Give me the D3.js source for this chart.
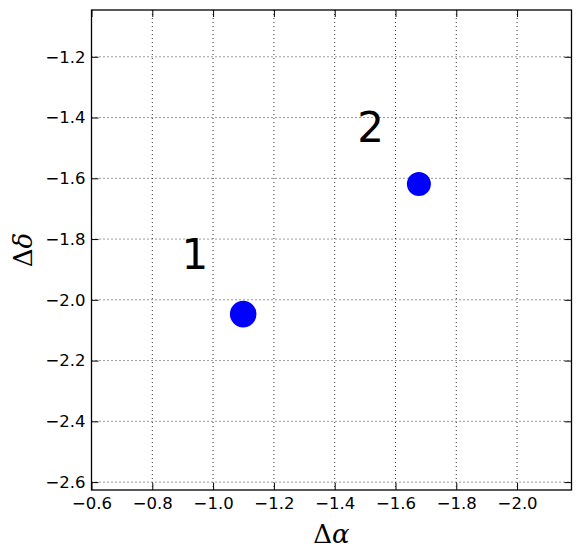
<!DOCTYPE html>
<html>
<head>
<meta charset="utf-8">
<script src="https://cdn.jsdelivr.net/npm/d3@7"></script>
<style>
  body { margin: 0; background: #fff; }
  text { font-family: "DejaVu Sans", sans-serif; }
</style>
</head>
<body>
<div id="chart"></div>
<script>
// data
var dAlpha = [-1.099, -1.677];
var dDelta = [-2.047, -1.619];
var sizes = [13.3, 12];
var labels = ["1", "2"];
var labelX = [-0.94, -1.518];
var labelY = [-1.9, -1.479];
var xTicks = [-0.6, -0.8, -1.0, -1.2, -1.4, -1.6, -1.8, -2.0];
var yTicks = [-1.2, -1.4, -1.6, -1.8, -2.0, -2.2, -2.4, -2.6];

var W = 580, H = 558;
var margin = {top: 10, right: 8.5, bottom: 68, left: 91.5};
var width = W - margin.left - margin.right,
    height = H - margin.top - margin.bottom;

var svg = d3.select("#chart").append("svg")
    .attr("width", W)
    .attr("height", H)
  .append("g")
    .attr("transform", "translate(" + margin.left + "," + margin.top + ")");

var x = d3.scaleLinear().domain([-0.6, -2.179]).range([0, width]);
var y = d3.scaleLinear().domain([-2.626, -1.046]).range([height, 0]);

var fmt = function(d) { return d3.format(".1f")(d).replace("-", "\u2212"); };

// grid
svg.append("g").selectAll("line").data(xTicks).enter().append("line")
    .attr("x1", function(d) { return x(d); }).attr("x2", function(d) { return x(d); })
    .attr("y1", 0).attr("y2", height)
    .style("stroke", "#000").style("stroke-width", 0.8).style("stroke-dasharray", "1,3");
svg.append("g").selectAll("line").data(yTicks).enter().append("line")
    .attr("y1", function(d) { return y(d); }).attr("y2", function(d) { return y(d); })
    .attr("x1", 0).attr("x2", width)
    .style("stroke", "#000").style("stroke-width", 0.8).style("stroke-dasharray", "1,3");

// axes (ticks inward, on all sides)
function styleAxis(g) {
  g.select(".domain").remove();
  g.selectAll(".tick line").style("stroke", "#000").style("stroke-width", 1);
  g.selectAll(".tick text").style("font-size", "16.5px").style("fill", "#000")
    .style("font-family", "DejaVu Sans");
}
svg.append("g").attr("transform", "translate(0," + height + ")")
    .call(d3.axisBottom(x).tickValues(xTicks).tickFormat(fmt).tickSizeInner(-7).tickPadding(7))
    .call(styleAxis);
svg.append("g")
    .call(d3.axisTop(x).tickValues(xTicks).tickFormat("").tickSizeInner(-7))
    .call(styleAxis);
svg.append("g")
    .call(d3.axisLeft(y).tickValues(yTicks).tickFormat(fmt).tickSizeInner(-7).tickPadding(6))
    .call(styleAxis);
svg.append("g").attr("transform", "translate(" + width + ",0)")
    .call(d3.axisRight(y).tickValues(yTicks).tickFormat("").tickSizeInner(-7))
    .call(styleAxis);

// frame
svg.append("rect").attr("width", width).attr("height", height)
    .style("fill", "none").style("stroke", "#000").style("stroke-width", 1.3);

// points
svg.selectAll("circle").data(dAlpha).enter().append("circle")
    .attr("cx", function(d) { return x(d); })
    .attr("cy", function(d, i) { return y(dDelta[i]); })
    .attr("r", function(d, i) { return sizes[i]; })
    .style("fill", "#0000ff");

// point labels
svg.selectAll(".lab").data(labels).enter().append("text")
    .attr("class", "lab")
    .attr("x", function(d, i) { return x(labelX[i]); })
    .attr("y", function(d, i) { return y(labelY[i]); })
    .attr("text-anchor", "middle")
    .style("font-size", "42px")
    .text(function(d) { return d; });

// axis labels
var xl = svg.append("text")
    .attr("x", width / 2).attr("y", height + 53)
    .attr("text-anchor", "middle")
    .style("font-family", "DejaVu Serif").style("font-size", "26px");
xl.append("tspan").text("\u0394");
xl.append("tspan").style("font-style", "italic").text("\u03b1");

var yl = svg.append("text")
    .attr("transform", "translate(-60," + (height / 2) + ")rotate(-90)")
    .attr("text-anchor", "middle")
    .style("font-family", "DejaVu Serif").style("font-size", "26px");
yl.append("tspan").text("\u0394");
yl.append("tspan").style("font-style", "italic").text("\u03b4");
</script>
</body>
</html>
